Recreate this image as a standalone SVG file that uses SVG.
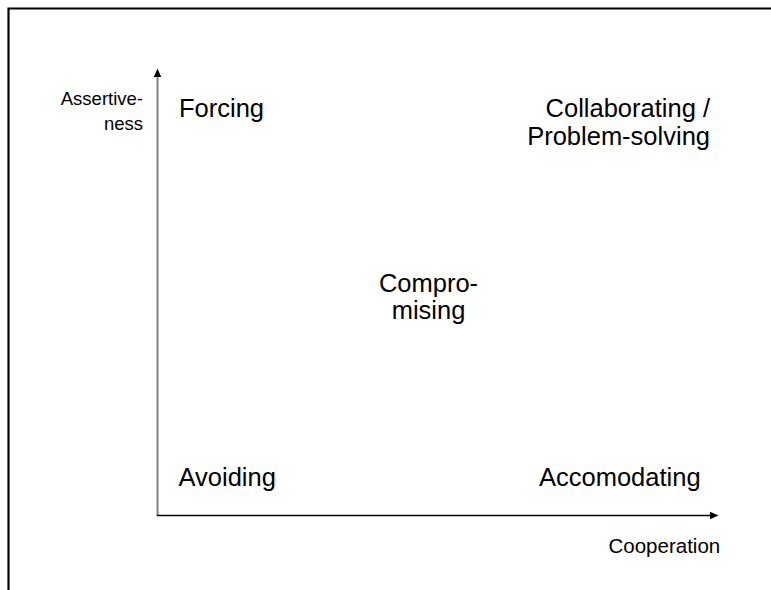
<svg xmlns="http://www.w3.org/2000/svg" width="771" height="590" viewBox="0 0 771 590">
<style>
text { font-family: "Liberation Sans", Arial, sans-serif; fill: #000; }
.big { font-size: 25.5px; }
.small { font-size: 18.5px; }
.xlab { font-size: 20.5px; }
</style>
<rect width="771" height="590" fill="#fff"/>
<g id="frame">
<path d="M8.5 590 V8.5 H771" fill="none" stroke="#000" stroke-width="2.2"/>
</g>
<g id="connectors">
<line x1="157.5" y1="516" x2="157.5" y2="76" stroke="#808080" stroke-width="2"/>
<polygon points="157.5,68.5 153.8,77 161.2,77" fill="#000"/>
<line x1="157" y1="515.5" x2="711" y2="515.5" stroke="#000" stroke-width="1.5"/>
<polygon points="718.5,515.5 710,511.8 710,519.2" fill="#000"/>
</g>
<g id="axis-y-label">
<text class="small" x="143" y="105" text-anchor="end">Assertive-</text>
<text class="small" x="143" y="130" text-anchor="end">ness</text>
</g>
<g id="axis-x-label">
<text class="xlab" x="608.5" y="553">Cooperation</text>
</g>
<g id="forcing">
<text class="big" x="179" y="116.5">Forcing</text>
</g>
<g id="collaborating">
<text class="big" x="710" y="116.5" text-anchor="end">Collaborating /</text>
<text class="big" x="710" y="145" text-anchor="end">Problem-solving</text>
</g>
<g id="compromising">
<text class="big" x="428.5" y="291.5" text-anchor="middle">Compro-</text>
<text class="big" x="428.5" y="318.5" text-anchor="middle">mising</text>
</g>
<g id="avoiding">
<text class="big" x="178.5" y="486">Avoiding</text>
</g>
<g id="accomodating">
<text class="big" x="539" y="486">Accomodating</text>
</g>
</svg>
